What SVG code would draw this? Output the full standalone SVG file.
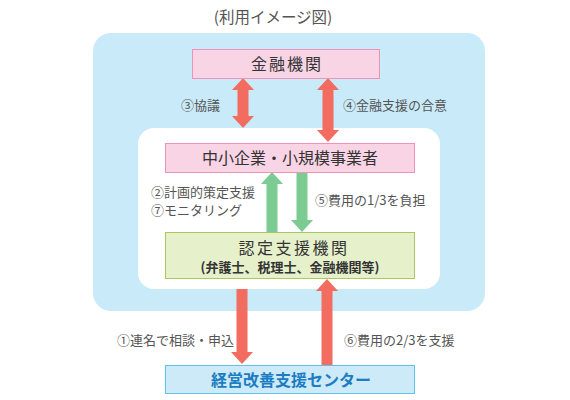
<svg xmlns="http://www.w3.org/2000/svg" width="570" height="400" viewBox="0 0 570 400">
<defs>
<style>
text{font-family:"Noto Sans CJK JP","Noto Sans",sans-serif;fill:#444}
.lbl{font-size:13px;fill:#555}
.red{fill:#f26d5f}
.grn{fill:#7ccb92}
</style>
</defs>
<rect width="570" height="400" fill="#fff"/>
<text x="273" y="23" font-size="15.5" text-anchor="middle" fill="#555" style="fill:#555">(利用イメージ図)</text>
<g id="outer"><rect x="93" y="33" width="392" height="278" rx="18" fill="#c9eaf9"/></g>
<g id="inner"><rect x="138" y="128" width="302" height="161" rx="16" fill="#fff"/></g>
<g id="connectors">
<polygon class="red" points="243,78 254,90 248.5,90 248.5,116 254,116 243,128 232,116 237.5,116 237.5,90 232,90"/>
<polygon class="red" points="328,78 339,90 333.5,90 333.5,130 339,130 328,142 317,130 322.5,130 322.5,90 317,90"/>
<polygon class="grn" points="272,172 283,184 277.5,184 277.5,232 266.5,232 266.5,184 261,184"/>
<polygon class="grn" points="302,232 313,220 307.5,220 307.5,172 296.5,172 296.5,220 291,220"/>
<polygon class="red" points="242,364 253,352 247.5,352 247.5,289 236.5,289 236.5,352 231,352"/>
<polygon class="red" points="327,279 338,291 332.5,291 332.5,365 321.5,365 321.5,291 316,291"/>
<text class="lbl" x="181" y="110">③協議</text>
<text class="lbl" x="343" y="110">④金融支援の合意</text>
<text class="lbl" x="151" y="197">②計画的策定支援</text>
<text class="lbl" x="151" y="215">⑦モニタリング</text>
<text class="lbl" x="315" y="205">⑤費用の1/3を負担</text>
<text class="lbl" x="117" y="345">①連名で相談・申込</text>
<text class="lbl" x="344" y="345">⑥費用の2/3を支援</text>
</g>
<g id="kinyu">
<rect x="192.5" y="49.5" width="187" height="29" fill="#f9d4e5" stroke="#ef93b8"/>
<text x="287" y="70" font-size="16" letter-spacing="2" text-anchor="middle" fill="#333" style="fill:#333">金融機関</text>
</g>
<g id="chusho">
<rect x="165.5" y="143.5" width="249" height="29" fill="#f9d4e5" stroke="#ef93b8"/>
<text x="290" y="164" font-size="16" text-anchor="middle" fill="#333" style="fill:#333">中小企業・小規模事業者</text>
</g>
<g id="nintei">
<rect x="165.5" y="232.5" width="249" height="46" fill="#e6f0cb" stroke="#a8c960"/>
<text x="294" y="254" font-size="16" letter-spacing="2.5" text-anchor="middle" fill="#333" style="fill:#333">認定支援機関</text>
<text x="290" y="272" font-size="13" font-weight="bold" text-anchor="middle" fill="#333" style="fill:#333">(弁護士、税理士、金融機関等)</text>
</g>
<g id="center">
<rect x="165.5" y="365.5" width="249" height="28" fill="#cdeaf9" stroke="#5ec3ee"/>
<text x="291" y="386" font-size="16" font-weight="bold" text-anchor="middle" style="fill:#1c7dc3">経営改善支援センター</text>
</g>
</svg>
